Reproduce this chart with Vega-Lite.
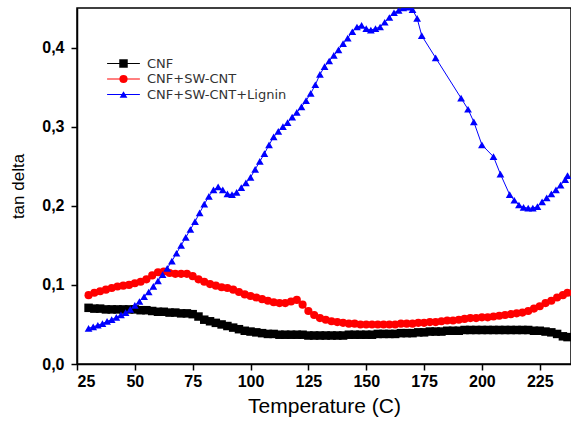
{
  "$schema": "https://vega.github.io/schema/vega-lite/v6.json",
  "width": 494,
  "height": 356,
  "autosize": {"type": "none"},
  "padding": {"left": 77, "top": 8, "right": 0, "bottom": 60},
  "background": "white",
  "config": {
    "view": {"stroke": "black", "strokeWidth": 1.5},
    "font": "Liberation Sans",
    "axis": {"grid": false, "domainColor": "black", "domainWidth": 1.5, "tickColor": "black", "tickWidth": 1.5, "tickSize": 6, "labelColor": "black", "labelFontSize": 16, "labelFontWeight": "bold", "titleFontWeight": "normal", "titleColor": "black", "labelFont": "Liberation Sans", "titleFont": "Liberation Sans"}
  },
  "data": {"values": [
    {"series":"CNF","T":30,"tan":0.071},{"series":"CNF","T":32.5,"tan":0.070},{"series":"CNF","T":35,"tan":0.070},{"series":"CNF","T":37.5,"tan":0.069},{"series":"CNF","T":40,"tan":0.069},{"series":"CNF","T":42.5,"tan":0.069},{"series":"CNF","T":45,"tan":0.069},{"series":"CNF","T":47.5,"tan":0.069},{"series":"CNF","T":50,"tan":0.069},{"series":"CNF","T":52.5,"tan":0.068},{"series":"CNF","T":55,"tan":0.068},{"series":"CNF","T":57.5,"tan":0.067},{"series":"CNF","T":60,"tan":0.066},{"series":"CNF","T":62.5,"tan":0.066},{"series":"CNF","T":65,"tan":0.065},{"series":"CNF","T":67.5,"tan":0.065},{"series":"CNF","T":70,"tan":0.064},{"series":"CNF","T":72.5,"tan":0.064},{"series":"CNF","T":75,"tan":0.063},{"series":"CNF","T":77.5,"tan":0.060},{"series":"CNF","T":80,"tan":0.056},{"series":"CNF","T":82.5,"tan":0.054},{"series":"CNF","T":85,"tan":0.052},{"series":"CNF","T":87.5,"tan":0.050},{"series":"CNF","T":90,"tan":0.048},{"series":"CNF","T":92.5,"tan":0.046},{"series":"CNF","T":95,"tan":0.044},{"series":"CNF","T":97.5,"tan":0.042},{"series":"CNF","T":100,"tan":0.041},{"series":"CNF","T":102.5,"tan":0.040},{"series":"CNF","T":105,"tan":0.039},{"series":"CNF","T":107.5,"tan":0.038},{"series":"CNF","T":110,"tan":0.038},{"series":"CNF","T":112.5,"tan":0.037},{"series":"CNF","T":115,"tan":0.037},{"series":"CNF","T":117.5,"tan":0.037},{"series":"CNF","T":120,"tan":0.037},{"series":"CNF","T":122.5,"tan":0.037},{"series":"CNF","T":125,"tan":0.036},{"series":"CNF","T":127.5,"tan":0.036},{"series":"CNF","T":130,"tan":0.036},{"series":"CNF","T":132.5,"tan":0.036},{"series":"CNF","T":135,"tan":0.036},{"series":"CNF","T":137.5,"tan":0.036},{"series":"CNF","T":140,"tan":0.036},{"series":"CNF","T":142.5,"tan":0.037},{"series":"CNF","T":145,"tan":0.037},{"series":"CNF","T":147.5,"tan":0.037},{"series":"CNF","T":150,"tan":0.037},{"series":"CNF","T":152.5,"tan":0.037},{"series":"CNF","T":155,"tan":0.038},{"series":"CNF","T":157.5,"tan":0.038},{"series":"CNF","T":160,"tan":0.038},{"series":"CNF","T":162.5,"tan":0.038},{"series":"CNF","T":165,"tan":0.039},{"series":"CNF","T":167.5,"tan":0.039},{"series":"CNF","T":170,"tan":0.039},{"series":"CNF","T":172.5,"tan":0.040},{"series":"CNF","T":175,"tan":0.040},{"series":"CNF","T":177.5,"tan":0.041},{"series":"CNF","T":180,"tan":0.041},{"series":"CNF","T":182.5,"tan":0.041},{"series":"CNF","T":185,"tan":0.042},{"series":"CNF","T":187.5,"tan":0.042},{"series":"CNF","T":190,"tan":0.042},{"series":"CNF","T":192.5,"tan":0.043},{"series":"CNF","T":195,"tan":0.043},{"series":"CNF","T":197.5,"tan":0.043},{"series":"CNF","T":200,"tan":0.043},{"series":"CNF","T":202.5,"tan":0.043},{"series":"CNF","T":205,"tan":0.043},{"series":"CNF","T":207.5,"tan":0.043},{"series":"CNF","T":210,"tan":0.043},{"series":"CNF","T":212.5,"tan":0.043},{"series":"CNF","T":215,"tan":0.043},{"series":"CNF","T":217.5,"tan":0.043},{"series":"CNF","T":220,"tan":0.043},{"series":"CNF","T":222.5,"tan":0.042},{"series":"CNF","T":225,"tan":0.042},{"series":"CNF","T":227.5,"tan":0.041},{"series":"CNF","T":230,"tan":0.040},{"series":"CNF","T":232.5,"tan":0.038},{"series":"CNF","T":235,"tan":0.035},{"series":"CNF","T":237,"tan":0.034},
    {"series":"CNF+SW-CNT","T":30,"tan":0.087},{"series":"CNF+SW-CNT","T":32.5,"tan":0.090},{"series":"CNF+SW-CNT","T":35,"tan":0.092},{"series":"CNF+SW-CNT","T":37.5,"tan":0.094},{"series":"CNF+SW-CNT","T":40,"tan":0.096},{"series":"CNF+SW-CNT","T":42.5,"tan":0.098},{"series":"CNF+SW-CNT","T":45,"tan":0.099},{"series":"CNF+SW-CNT","T":47.5,"tan":0.100},{"series":"CNF+SW-CNT","T":50,"tan":0.102},{"series":"CNF+SW-CNT","T":52.5,"tan":0.104},{"series":"CNF+SW-CNT","T":55,"tan":0.107},{"series":"CNF+SW-CNT","T":57.5,"tan":0.112},{"series":"CNF+SW-CNT","T":60,"tan":0.116},{"series":"CNF+SW-CNT","T":62.5,"tan":0.117},{"series":"CNF+SW-CNT","T":65,"tan":0.115},{"series":"CNF+SW-CNT","T":67.5,"tan":0.114},{"series":"CNF+SW-CNT","T":70,"tan":0.114},{"series":"CNF+SW-CNT","T":72.5,"tan":0.114},{"series":"CNF+SW-CNT","T":75,"tan":0.111},{"series":"CNF+SW-CNT","T":77.5,"tan":0.107},{"series":"CNF+SW-CNT","T":80,"tan":0.104},{"series":"CNF+SW-CNT","T":82.5,"tan":0.101},{"series":"CNF+SW-CNT","T":85,"tan":0.099},{"series":"CNF+SW-CNT","T":87.5,"tan":0.097},{"series":"CNF+SW-CNT","T":90,"tan":0.096},{"series":"CNF+SW-CNT","T":92.5,"tan":0.094},{"series":"CNF+SW-CNT","T":95,"tan":0.091},{"series":"CNF+SW-CNT","T":97.5,"tan":0.088},{"series":"CNF+SW-CNT","T":100,"tan":0.086},{"series":"CNF+SW-CNT","T":102.5,"tan":0.084},{"series":"CNF+SW-CNT","T":105,"tan":0.082},{"series":"CNF+SW-CNT","T":107.5,"tan":0.080},{"series":"CNF+SW-CNT","T":110,"tan":0.078},{"series":"CNF+SW-CNT","T":112.5,"tan":0.077},{"series":"CNF+SW-CNT","T":115,"tan":0.077},{"series":"CNF+SW-CNT","T":117.5,"tan":0.079},{"series":"CNF+SW-CNT","T":120,"tan":0.081},{"series":"CNF+SW-CNT","T":122.5,"tan":0.075},{"series":"CNF+SW-CNT","T":125,"tan":0.067},{"series":"CNF+SW-CNT","T":127.5,"tan":0.062},{"series":"CNF+SW-CNT","T":130,"tan":0.058},{"series":"CNF+SW-CNT","T":132.5,"tan":0.056},{"series":"CNF+SW-CNT","T":135,"tan":0.054},{"series":"CNF+SW-CNT","T":137.5,"tan":0.053},{"series":"CNF+SW-CNT","T":140,"tan":0.052},{"series":"CNF+SW-CNT","T":142.5,"tan":0.051},{"series":"CNF+SW-CNT","T":145,"tan":0.051},{"series":"CNF+SW-CNT","T":147.5,"tan":0.050},{"series":"CNF+SW-CNT","T":150,"tan":0.050},{"series":"CNF+SW-CNT","T":152.5,"tan":0.050},{"series":"CNF+SW-CNT","T":155,"tan":0.050},{"series":"CNF+SW-CNT","T":157.5,"tan":0.050},{"series":"CNF+SW-CNT","T":160,"tan":0.050},{"series":"CNF+SW-CNT","T":162.5,"tan":0.050},{"series":"CNF+SW-CNT","T":165,"tan":0.051},{"series":"CNF+SW-CNT","T":167.5,"tan":0.051},{"series":"CNF+SW-CNT","T":170,"tan":0.051},{"series":"CNF+SW-CNT","T":172.5,"tan":0.052},{"series":"CNF+SW-CNT","T":175,"tan":0.052},{"series":"CNF+SW-CNT","T":177.5,"tan":0.053},{"series":"CNF+SW-CNT","T":180,"tan":0.053},{"series":"CNF+SW-CNT","T":182.5,"tan":0.054},{"series":"CNF+SW-CNT","T":185,"tan":0.055},{"series":"CNF+SW-CNT","T":187.5,"tan":0.055},{"series":"CNF+SW-CNT","T":190,"tan":0.056},{"series":"CNF+SW-CNT","T":192.5,"tan":0.057},{"series":"CNF+SW-CNT","T":195,"tan":0.058},{"series":"CNF+SW-CNT","T":197.5,"tan":0.058},{"series":"CNF+SW-CNT","T":200,"tan":0.059},{"series":"CNF+SW-CNT","T":202.5,"tan":0.059},{"series":"CNF+SW-CNT","T":205,"tan":0.060},{"series":"CNF+SW-CNT","T":207.5,"tan":0.061},{"series":"CNF+SW-CNT","T":210,"tan":0.062},{"series":"CNF+SW-CNT","T":212.5,"tan":0.063},{"series":"CNF+SW-CNT","T":215,"tan":0.064},{"series":"CNF+SW-CNT","T":217.5,"tan":0.065},{"series":"CNF+SW-CNT","T":220,"tan":0.067},{"series":"CNF+SW-CNT","T":222.5,"tan":0.070},{"series":"CNF+SW-CNT","T":225,"tan":0.073},{"series":"CNF+SW-CNT","T":227.5,"tan":0.077},{"series":"CNF+SW-CNT","T":230,"tan":0.080},{"series":"CNF+SW-CNT","T":232.5,"tan":0.084},{"series":"CNF+SW-CNT","T":235,"tan":0.087},{"series":"CNF+SW-CNT","T":237,"tan":0.090},
    {"series":"CNF+SW-CNT+Lignin","T":30,"tan":0.045},{"series":"CNF+SW-CNT+Lignin","T":32,"tan":0.047},{"series":"CNF+SW-CNT+Lignin","T":34,"tan":0.049},{"series":"CNF+SW-CNT+Lignin","T":36,"tan":0.051},{"series":"CNF+SW-CNT+Lignin","T":38,"tan":0.054},{"series":"CNF+SW-CNT+Lignin","T":40,"tan":0.056},{"series":"CNF+SW-CNT+Lignin","T":42,"tan":0.059},{"series":"CNF+SW-CNT+Lignin","T":44,"tan":0.062},{"series":"CNF+SW-CNT+Lignin","T":46,"tan":0.065},{"series":"CNF+SW-CNT+Lignin","T":48,"tan":0.069},{"series":"CNF+SW-CNT+Lignin","T":50,"tan":0.074},{"series":"CNF+SW-CNT+Lignin","T":52,"tan":0.079},{"series":"CNF+SW-CNT+Lignin","T":54,"tan":0.085},{"series":"CNF+SW-CNT+Lignin","T":56,"tan":0.091},{"series":"CNF+SW-CNT+Lignin","T":58,"tan":0.098},{"series":"CNF+SW-CNT+Lignin","T":60,"tan":0.105},{"series":"CNF+SW-CNT+Lignin","T":62,"tan":0.113},{"series":"CNF+SW-CNT+Lignin","T":64,"tan":0.121},{"series":"CNF+SW-CNT+Lignin","T":66,"tan":0.130},{"series":"CNF+SW-CNT+Lignin","T":68,"tan":0.140},{"series":"CNF+SW-CNT+Lignin","T":70,"tan":0.150},{"series":"CNF+SW-CNT+Lignin","T":72,"tan":0.160},{"series":"CNF+SW-CNT+Lignin","T":74,"tan":0.170},{"series":"CNF+SW-CNT+Lignin","T":76,"tan":0.180},{"series":"CNF+SW-CNT+Lignin","T":78,"tan":0.191},{"series":"CNF+SW-CNT+Lignin","T":80,"tan":0.202},{"series":"CNF+SW-CNT+Lignin","T":82,"tan":0.212},{"series":"CNF+SW-CNT+Lignin","T":84,"tan":0.220},{"series":"CNF+SW-CNT+Lignin","T":86,"tan":0.224},{"series":"CNF+SW-CNT+Lignin","T":88,"tan":0.220},{"series":"CNF+SW-CNT+Lignin","T":90,"tan":0.215},{"series":"CNF+SW-CNT+Lignin","T":92,"tan":0.214},{"series":"CNF+SW-CNT+Lignin","T":94,"tan":0.217},{"series":"CNF+SW-CNT+Lignin","T":96,"tan":0.223},{"series":"CNF+SW-CNT+Lignin","T":98,"tan":0.229},{"series":"CNF+SW-CNT+Lignin","T":100,"tan":0.236},{"series":"CNF+SW-CNT+Lignin","T":102,"tan":0.246},{"series":"CNF+SW-CNT+Lignin","T":104,"tan":0.256},{"series":"CNF+SW-CNT+Lignin","T":106,"tan":0.266},{"series":"CNF+SW-CNT+Lignin","T":108,"tan":0.277},{"series":"CNF+SW-CNT+Lignin","T":110,"tan":0.287},{"series":"CNF+SW-CNT+Lignin","T":112,"tan":0.294},{"series":"CNF+SW-CNT+Lignin","T":114,"tan":0.300},{"series":"CNF+SW-CNT+Lignin","T":116,"tan":0.305},{"series":"CNF+SW-CNT+Lignin","T":118,"tan":0.312},{"series":"CNF+SW-CNT+Lignin","T":120,"tan":0.318},{"series":"CNF+SW-CNT+Lignin","T":122,"tan":0.325},{"series":"CNF+SW-CNT+Lignin","T":124,"tan":0.333},{"series":"CNF+SW-CNT+Lignin","T":126,"tan":0.342},{"series":"CNF+SW-CNT+Lignin","T":128,"tan":0.353},{"series":"CNF+SW-CNT+Lignin","T":130,"tan":0.366},{"series":"CNF+SW-CNT+Lignin","T":132,"tan":0.376},{"series":"CNF+SW-CNT+Lignin","T":134,"tan":0.383},{"series":"CNF+SW-CNT+Lignin","T":136,"tan":0.390},{"series":"CNF+SW-CNT+Lignin","T":138,"tan":0.397},{"series":"CNF+SW-CNT+Lignin","T":140,"tan":0.405},{"series":"CNF+SW-CNT+Lignin","T":142,"tan":0.412},{"series":"CNF+SW-CNT+Lignin","T":144,"tan":0.420},{"series":"CNF+SW-CNT+Lignin","T":146,"tan":0.426},{"series":"CNF+SW-CNT+Lignin","T":148,"tan":0.428},{"series":"CNF+SW-CNT+Lignin","T":150,"tan":0.424},{"series":"CNF+SW-CNT+Lignin","T":152,"tan":0.422},{"series":"CNF+SW-CNT+Lignin","T":154,"tan":0.424},{"series":"CNF+SW-CNT+Lignin","T":156,"tan":0.426},{"series":"CNF+SW-CNT+Lignin","T":158,"tan":0.432},{"series":"CNF+SW-CNT+Lignin","T":160,"tan":0.438},{"series":"CNF+SW-CNT+Lignin","T":162,"tan":0.444},{"series":"CNF+SW-CNT+Lignin","T":164,"tan":0.447},{"series":"CNF+SW-CNT+Lignin","T":166,"tan":0.450},{"series":"CNF+SW-CNT+Lignin","T":168,"tan":0.451},{"series":"CNF+SW-CNT+Lignin","T":170,"tan":0.448},{"series":"CNF+SW-CNT+Lignin","T":172,"tan":0.437},{"series":"CNF+SW-CNT+Lignin","T":174,"tan":0.415},{"series":"CNF+SW-CNT+Lignin","T":180,"tan":0.387},{"series":"CNF+SW-CNT+Lignin","T":191,"tan":0.336},{"series":"CNF+SW-CNT+Lignin","T":194,"tan":0.322},{"series":"CNF+SW-CNT+Lignin","T":196.5,"tan":0.306},{"series":"CNF+SW-CNT+Lignin","T":200,"tan":0.277},{"series":"CNF+SW-CNT+Lignin","T":205,"tan":0.262},{"series":"CNF+SW-CNT+Lignin","T":208,"tan":0.240},{"series":"CNF+SW-CNT+Lignin","T":212,"tan":0.214},{"series":"CNF+SW-CNT+Lignin","T":214,"tan":0.207},{"series":"CNF+SW-CNT+Lignin","T":216,"tan":0.201},{"series":"CNF+SW-CNT+Lignin","T":218,"tan":0.198},{"series":"CNF+SW-CNT+Lignin","T":220,"tan":0.197},{"series":"CNF+SW-CNT+Lignin","T":222,"tan":0.197},{"series":"CNF+SW-CNT+Lignin","T":224,"tan":0.199},{"series":"CNF+SW-CNT+Lignin","T":226,"tan":0.205},{"series":"CNF+SW-CNT+Lignin","T":228,"tan":0.210},{"series":"CNF+SW-CNT+Lignin","T":230,"tan":0.215},{"series":"CNF+SW-CNT+Lignin","T":232,"tan":0.220},{"series":"CNF+SW-CNT+Lignin","T":234,"tan":0.226},{"series":"CNF+SW-CNT+Lignin","T":236,"tan":0.233},{"series":"CNF+SW-CNT+Lignin","T":237,"tan":0.238}
  ]},
  "encoding": {
    "x": {"field": "T", "type": "quantitative", "scale": {"domain": [25, 238.5], "nice": false, "zero": false},
      "axis": {"values": [25, 50, 75, 100, 125, 150, 175, 200, 225], "title": "Temperature (C)", "titleFontSize": 21, "labelPadding": 3, "titlePadding": 6}},
    "y": {"field": "tan", "type": "quantitative", "scale": {"domain": [0, 0.45], "nice": false},
      "axis": {"values": [0, 0.1, 0.2, 0.3, 0.4], "title": "tan delta", "titleFontSize": 17, "labelExpr": "replace(format(datum.value, '.1f'), '.', ',')", "labelPadding": 7, "titlePadding": 14}}
  },
  "layer": [
    {
      "transform": [{"calculate": "datum.series", "as": "curve"}],
      "mark": {"type": "line", "strokeWidth": 1, "clip": true},
      "encoding": {
        "stroke": {"field": "curve", "type": "nominal", "scale": {"range": ["#000000", "#ff0000", "#0000ff"]},
          "legend": {"title": null, "orient": "none", "legendX": 40, "legendY": 49, "padding": 0, "labelFontSize": 13, "labelOpacity": 0, "labelFont": "DejaVu Sans", "symbolType": "M-4.1,0H4.1", "symbolSize": 64, "symbolStrokeWidth": 1, "labelOffset": 17, "rowPadding": 1.5}}
      }
    },
    {
      "mark": {"type": "point", "filled": true, "opacity": 1, "clip": true},
      "encoding": {
        "color": {"field": "series", "type": "nominal", "scale": {"domain": ["CNF", "CNF+SW-CNT", "CNF+SW-CNT+Lignin"], "range": ["#000000", "#ff0000", "#0000ff"]},
          "legend": {"title": null, "orient": "none", "legendX": 40, "legendY": 49, "padding": 0, "labelFontSize": 13, "labelColor": "#333", "labelFont": "DejaVu Sans", "symbolSize": 64, "labelOffset": 17, "rowPadding": 1.5, "symbolOpacity": 1}},
        "shape": {"field": "series", "type": "nominal", "scale": {"domain": ["CNF", "CNF+SW-CNT", "CNF+SW-CNT+Lignin"], "range": ["square", "circle", "triangle-up"]}, "legend": null},
        "size": {"field": "series", "type": "nominal", "scale": {"domain": ["CNF", "CNF+SW-CNT", "CNF+SW-CNT+Lignin"], "range": [72, 60, 95]}, "legend": null}
      }
    }
  ]
}
